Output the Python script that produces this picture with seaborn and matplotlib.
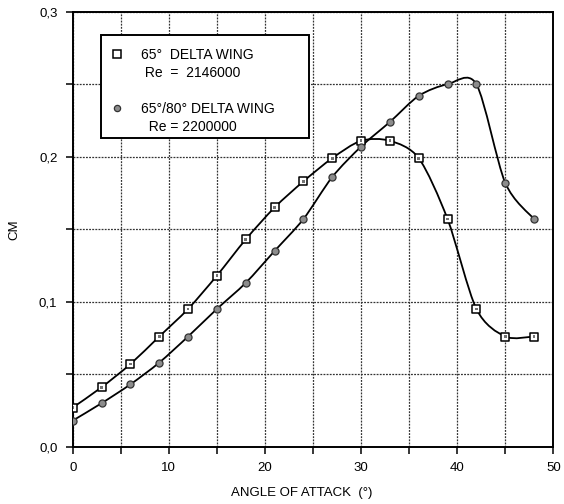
import numpy as np
import pandas as pd
import matplotlib
matplotlib.use("Agg")
import matplotlib.pyplot as plt
from matplotlib.path import Path
from matplotlib.patches import PathPatch, Rectangle
from matplotlib.lines import Line2D
import seaborn as sns

# Data (angle of attack in degrees, CM)
alpha = [0, 3, 6, 9, 12, 15, 18, 21, 24, 27, 30, 33, 36, 39, 42, 45, 48]
cm_delta65 = [0.027, 0.041, 0.057, 0.076, 0.095, 0.118, 0.143, 0.165, 0.183,
              0.199, 0.211, 0.211, 0.199, 0.157, 0.095, 0.076, 0.076]
cm_delta6580 = [0.018, 0.030, 0.043, 0.058, 0.076, 0.095, 0.113, 0.135, 0.157,
                0.186, 0.207, 0.224, 0.242, 0.250, 0.250, 0.182, 0.157]

labels = ["65°  DELTA WING", " Re  =  2146000", "",
          "65°/80° DELTA WING", "  Re = 2200000"]
x_ticks = list(range(0, 51, 5))
x_ticklabels = ["0", "", "10", "", "20", "", "30", "", "40", "", "50"]
y_ticks = [0.0, 0.05, 0.1, 0.15, 0.2, 0.25, 0.3]
y_ticklabels = ["0,0", "", "0,1", "", "0,2", "", "0,3"]

df = pd.DataFrame({"alpha": alpha, "d65": cm_delta65, "d6580": cm_delta6580})


def smooth_path(xs, ys, k=0.85):
    # Catmull-Rom style curve through the points, drawn as cubic Bezier segments
    pts = np.column_stack([xs, ys]).astype(float)
    ext = np.vstack([pts[0], pts, pts[-1]])
    verts = [tuple(pts[0])]
    codes = [Path.MOVETO]
    for i in range(1, len(ext) - 2):
        p0, p1, p2, p3 = ext[i - 1], ext[i], ext[i + 1], ext[i + 2]
        c1 = p1 + k * (p2 - p0) / 6.0
        c2 = p2 - k * (p3 - p1) / 6.0
        verts += [tuple(c1), tuple(c2), tuple(p2)]
        codes += [Path.CURVE4] * 3
    return Path(verts, codes)


sns.set_theme(style="white")
plt.rcParams["font.family"] = ["Liberation Sans", "DejaVu Sans"]
plt.rcParams["text.color"] = "black"
plt.rcParams["axes.labelcolor"] = "black"
plt.rcParams["xtick.color"] = "black"
plt.rcParams["ytick.color"] = "black"

fig = plt.figure(figsize=(5.64, 5.04), dpi=100)
ax = fig.add_axes([0.129, 0.1137, 0.852, 0.863])

# smooth curves
for col in ["d65", "d6580"]:
    ax.add_patch(PathPatch(smooth_path(df["alpha"], df[col]), fill=False,
                           edgecolor="black", linewidth=1.3, zorder=3))

# markers
sns.scatterplot(data=df, x="alpha", y="d65", marker="s", s=40,
                facecolor="white", edgecolor="black", linewidth=1.1,
                zorder=4, ax=ax)
sns.scatterplot(data=df, x="alpha", y="d65", marker="s", s=4,
                facecolor="0.45", edgecolor="none", zorder=5, ax=ax)
sns.scatterplot(data=df, x="alpha", y="d6580", marker="o", s=26,
                facecolor="0.55", edgecolor="0.2", linewidth=0.9,
                zorder=4, ax=ax)

ax.set_xlim(0, 50)
ax.set_ylim(0, 0.3)
ax.set_xticks(x_ticks)
ax.set_xticklabels(x_ticklabels)
ax.set_yticks(y_ticks)
ax.set_yticklabels(y_ticklabels)
ax.tick_params(direction="out", length=5, width=1.1, color="black",
               labelcolor="black", labelsize=9.5, pad=6, bottom=True, left=True)
ax.grid(True, color="0.2", linestyle=(0, (1.5, 1.0)), linewidth=0.9)
ax.set_axisbelow(True)
for sp in ax.spines.values():
    sp.set_color("black")
    sp.set_linewidth(1.4)

ax.set_xlabel("ANGLE OF ATTACK  (°)", fontsize=9.5, color="black")
ax.set_ylabel("CM", fontsize=9.5, color="black")
ax.xaxis.set_label_coords(0.477, -0.093)
ax.yaxis.set_label_coords(-0.11, 0.5)

# legend box
ax.add_patch(Rectangle((0.059, 0.7097), 0.4328, 0.2367, transform=ax.transAxes,
                       facecolor="white", edgecolor="black", linewidth=1.4,
                       zorder=6))

blank = Line2D([], [], linestyle="none", marker=None)
handles = [
    Line2D([], [], linestyle="none", marker="s", markersize=5.5,
           markerfacecolor="white", markeredgecolor="black", markeredgewidth=1.1),
    blank, blank,
    Line2D([], [], linestyle="none", marker="o", markersize=4.5,
           markerfacecolor="0.55", markeredgecolor="0.2", markeredgewidth=0.9),
    blank,
]
leg = ax.legend(handles, labels, loc="upper left",
                bbox_to_anchor=(0.059, 0.946), borderaxespad=0,
                fontsize=10, frameon=False, labelcolor="black",
                borderpad=0.9, handlelength=0.5, handletextpad=1.47,
                labelspacing=0.3)
leg.set_zorder(7)

fig.savefig("out.png", dpi=100)
